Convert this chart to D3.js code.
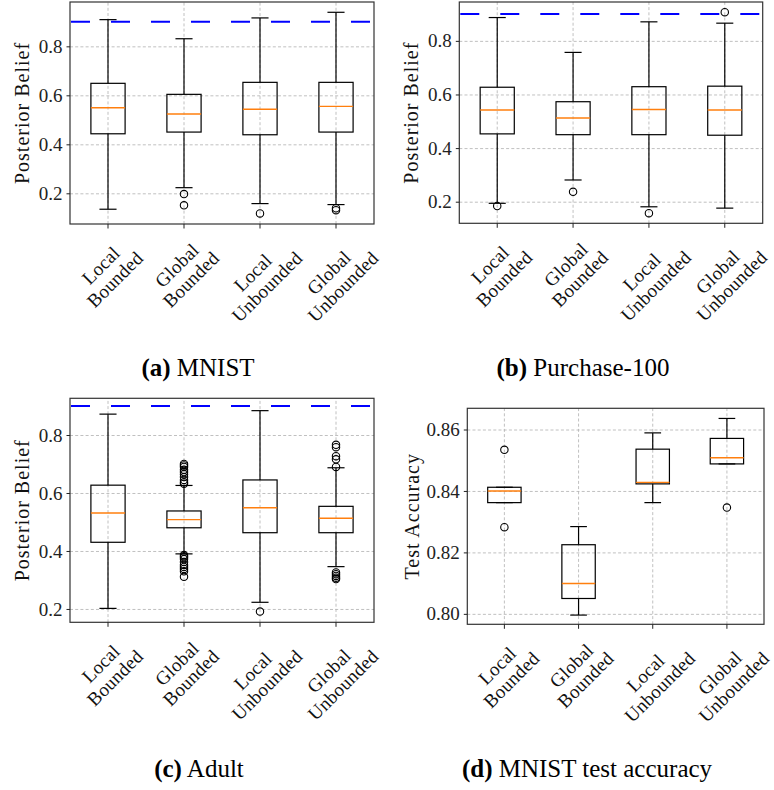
<!DOCTYPE html>
<html>
<head>
<meta charset="utf-8">
<script src="https://cdn.jsdelivr.net/npm/d3@7"></script>
<style>
body { margin: 0; background: #fff; }
svg { display: block; }
svg text { font-family: "Liberation Serif", "DejaVu Serif", serif; }
</style>
</head>
<body>
<div id="fig"></div>
<script>
var W = 774, H = 790;

var categories = [["Local", "Bounded"], ["Global", "Bounded"], ["Local", "Unbounded"], ["Global", "Unbounded"]];

// each box: [lower whisker, q1, median, q3, upper whisker]
var mnistBoxes = [
    [0.135, 0.443, 0.549, 0.649, 0.909],
    [0.223, 0.450, 0.524, 0.604, 0.831],
    [0.158, 0.439, 0.543, 0.653, 0.916],
    [0.154, 0.450, 0.555, 0.653, 0.939]
];
var mnistFliers = [[], [0.197, 0.151], [0.118], [0.139, 0.131]];

var purchaseBoxes = [
    [0.194, 0.453, 0.542, 0.627, 0.887],
    [0.281, 0.450, 0.512, 0.573, 0.757],
    [0.181, 0.450, 0.544, 0.629, 0.871],
    [0.176, 0.448, 0.542, 0.631, 0.866]
];
var purchaseFliers = [[0.184], [0.237], [0.157], [0.907]];

var adultBoxes = [
    [0.202, 0.430, 0.531, 0.627, 0.872],
    [0.390, 0.480, 0.508, 0.538, 0.626],
    [0.223, 0.463, 0.549, 0.645, 0.884],
    [0.346, 0.463, 0.513, 0.554, 0.687]
];
var adultFliers = [
    [],
    [0.700, 0.695, 0.690, 0.680, 0.672, 0.665, 0.655, 0.645, 0.637, 0.632,
     0.386, 0.382, 0.378, 0.372, 0.362, 0.352, 0.345, 0.338, 0.330, 0.311],
    [0.191],
    [0.766, 0.758, 0.727, 0.716, 0.690, 0.326, 0.320, 0.314, 0.308, 0.303]
];

var accBoxes = [
    [0.8362, 0.8362, 0.8400, 0.8412, 0.8412],
    [0.7996, 0.8050, 0.8099, 0.8225, 0.8284],
    [0.8362, 0.8423, 0.8428, 0.8536, 0.8589],
    [0.8488, 0.8488, 0.8508, 0.8571, 0.8636]
];
var accFliers = [[0.8534, 0.8282], [], [], [0.8346]];

var beliefTicks = [0.2, 0.4, 0.6, 0.8];
var accTicks = [0.80, 0.82, 0.84, 0.86];
var priorBelief = 0.9;

var panels = [
    {boxes: mnistBoxes, fliers: mnistFliers, ticks: beliefTicks, fmt: ".1f", ylabel: "Posterior Belief",
     line: true, domain: [0.0747, 0.981], x0: 70, x1: 374, y0: 2, y1: 224, labelX: 22,
     tag: "(a)", title: " MNIST", capX: 198, capY: 376},
    {boxes: purchaseBoxes, fliers: purchaseFliers, ticks: beliefTicks, fmt: ".1f", ylabel: "Posterior Belief",
     line: true, domain: [0.1194, 0.945], x0: 459.3, x1: 762.7, y0: 2, y1: 223.3, labelX: 411,
     tag: "(b)", title: " Purchase-100", capX: 583, capY: 376},
    {boxes: adultBoxes, fliers: adultFliers, ticks: beliefTicks, fmt: ".1f", ylabel: "Posterior Belief",
     line: true, domain: [0.154, 0.9266], x0: 70, x1: 374, y0: 398.3, y1: 622.3, labelX: 22,
     tag: "(c)", title: " Adult", capX: 199, capY: 777},
    {boxes: accBoxes, fliers: accFliers, ticks: accTicks, fmt: ".2f", ylabel: "Test Accuracy",
     line: false, domain: [0.7966, 0.8669], x0: 467.3, x1: 764, y0: 408.3, y1: 624.3, labelX: 412,
     tag: "(d)", title: " MNIST test accuracy", capX: 587, capY: 777}
];

var svg = d3.select("#fig").append("svg")
    .attr("width", W)
    .attr("height", H);

panels.forEach(function(p) {
    var g = svg.append("g");
    var pw = p.x1 - p.x0, ph = p.y1 - p.y0;

    var x = d3.scaleBand()
        .domain(d3.range(categories.length))
        .range([p.x0, p.x1])
        .paddingInner(0).paddingOuter(0);
    var y = d3.scaleLinear().domain(p.domain).range([p.y1, p.y0]);
    var bw = x.bandwidth() * 0.45;
    var cx = function(i) { return x(i) + x.bandwidth() / 2; };

    // grid
    var gridY = g.append("g")
        .attr("transform", "translate(" + p.x0 + ",0)")
        .call(d3.axisLeft(y).tickValues(p.ticks).tickSize(-pw).tickFormat(""));
    var gridX = g.append("g")
        .attr("transform", "translate(0," + p.y1 + ")")
        .call(d3.axisBottom(x).tickSize(-ph).tickFormat(""));
    [gridY, gridX].forEach(function(gg) {
        gg.select(".domain").remove();
        gg.selectAll("line")
            .attr("stroke", "#b0b0b0")
            .attr("stroke-width", 0.8)
            .attr("stroke-dasharray", "3,2.2");
    });

    // boxes
    p.boxes.forEach(function(b, i) {
        var c = cx(i);
        var bg = g.append("g").attr("stroke", "#000").attr("fill", "none").attr("stroke-width", 1.2);
        // whiskers
        bg.append("line").attr("x1", c).attr("x2", c).attr("y1", y(b[0])).attr("y2", y(b[1]));
        bg.append("line").attr("x1", c).attr("x2", c).attr("y1", y(b[3])).attr("y2", y(b[4]));
        // caps
        bg.selectAll(".cap").data([b[0], b[4]]).enter().append("line")
            .attr("x1", c - bw / 4).attr("x2", c + bw / 4)
            .attr("y1", function(d) { return y(d); })
            .attr("y2", function(d) { return y(d); });
        // box
        bg.append("rect")
            .attr("x", c - bw / 2).attr("width", bw)
            .attr("y", y(b[3])).attr("height", y(b[1]) - y(b[3]));
        // median
        g.append("line")
            .attr("x1", c - bw / 2).attr("x2", c + bw / 2)
            .attr("y1", y(b[2])).attr("y2", y(b[2]))
            .attr("stroke", "#ff7f0e").attr("stroke-width", 1.4);
        // outliers
        g.selectAll(null).data(p.fliers[i]).enter().append("circle")
            .attr("cx", c)
            .attr("cy", function(d) { return y(d); })
            .attr("r", 3.7)
            .attr("fill", "none")
            .attr("stroke", "#000")
            .attr("stroke-width", 1.1);
    });

    // prior belief line
    if (p.line) {
        g.append("line")
            .attr("x1", p.x0 + 1).attr("x2", p.x1)
            .attr("y1", y(priorBelief)).attr("y2", y(priorBelief))
            .attr("stroke", "#0000ff")
            .attr("stroke-width", 2)
            .attr("stroke-dasharray", "19,21");
    }

    // frame
    g.append("rect")
        .attr("x", p.x0).attr("y", p.y0)
        .attr("width", pw).attr("height", ph)
        .attr("fill", "none")
        .attr("stroke", "#333")
        .attr("stroke-width", 1.2);

    // y axis
    var ya = g.append("g")
        .attr("transform", "translate(" + p.x0 + ",0)")
        .call(d3.axisLeft(y).tickValues(p.ticks).tickSize(3.5).tickPadding(4).tickFormat(d3.format(p.fmt)));
    ya.select(".domain").remove();
    ya.attr("font-family", null);
    ya.selectAll("line").attr("stroke", "#222");
    ya.selectAll("text")
        .attr("font-size", 19)
        .attr("fill", "#222");

    // x axis ticks
    var xa = g.append("g")
        .attr("transform", "translate(0," + p.y1 + ")")
        .call(d3.axisBottom(x).tickSize(4.5).tickFormat(""));
    xa.select(".domain").remove();
    xa.selectAll("line").attr("stroke", "#222");

    // rotated two-line category labels
    categories.forEach(function(cat, i) {
        var outer = g.append("g")
            .attr("transform", "translate(" + cx(i) + "," + (p.y1 + 9) + ")");
        var mid = outer.append("g");
        var t = mid.append("g").attr("transform", "rotate(-45)")
            .append("text")
            .attr("font-size", 19)
            .attr("letter-spacing", 0.2)
            .attr("fill", "#111")
            .attr("text-anchor", "middle");
        t.append("tspan").attr("x", 0).attr("dy", "-0.1em").text(cat[0]);
        t.append("tspan").attr("x", 0).attr("dy", "1.05em").text(cat[1]);
        var bb = mid.node().getBBox();
        mid.attr("transform", "translate(" + (-(bb.x + bb.width / 2)) + "," + (-bb.y) + ")");
    });

    // y label
    g.append("text")
        .attr("transform", "translate(" + p.labelX + "," + ((p.y0 + p.y1) / 2) + ") rotate(-90)")
        .attr("text-anchor", "middle")
        .attr("dominant-baseline", "central")
        .attr("font-size", 20)
        .attr("letter-spacing", 1)
        .attr("fill", "#111")
        .text(p.ylabel);

    // caption
    var cap = svg.append("text")
        .attr("x", p.capX).attr("y", p.capY)
        .attr("text-anchor", "middle")
        .attr("font-size", 25)
        .attr("fill", "#000");
    cap.append("tspan").attr("font-weight", "bold").text(p.tag);
    cap.append("tspan").text(p.title);
});
</script>
</body>
</html>
